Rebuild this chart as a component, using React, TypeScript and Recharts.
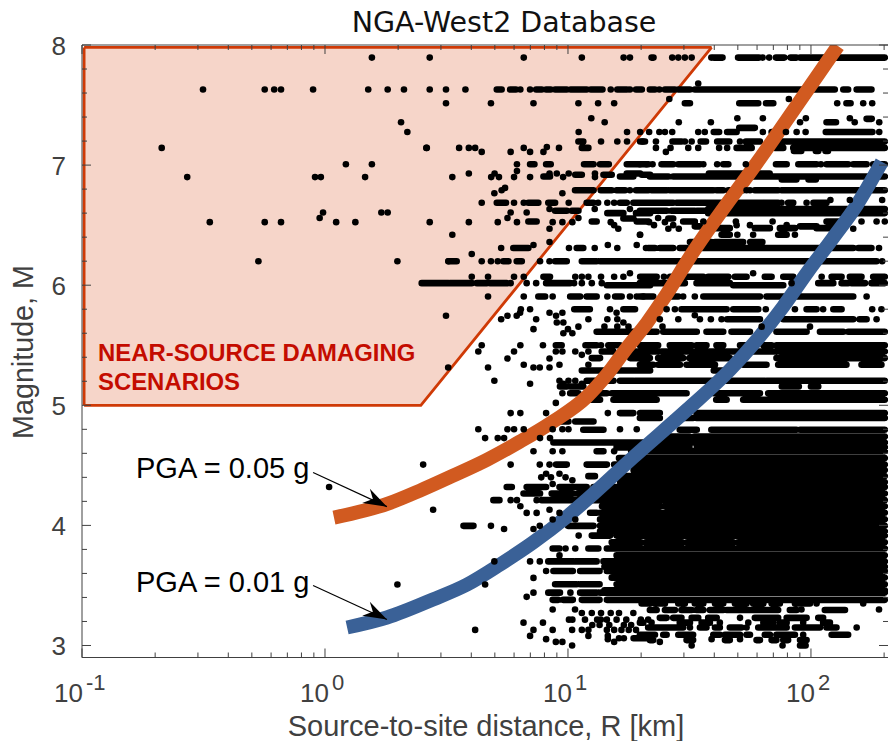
import { ComposedChart, Line, Area, Scatter, XAxis, YAxis, ReferenceLine } from 'recharts';

const xTicks = [0.1, 0.2, 0.3, 0.4, 0.5, 0.6, 0.7, 0.8, 0.9, 1, 2, 3, 4, 5, 6, 7, 8, 9, 10, 20, 30, 40, 50, 60, 70, 80, 90, 100, 200];
const xLabelExponents: Record<number, string> = { 0.1: '-1', 1: '0', 10: '1', 100: '2' };
const yTicks = [3, 3.2, 3.4, 3.6, 3.8, 4, 4.2, 4.4, 4.6, 4.8, 5, 5.2, 5.4, 5.6, 5.8, 6, 6.2, 6.4, 6.6, 6.8, 7, 7.2, 7.4, 7.6, 7.8, 8];

// curves: log10(R) and M
const pga05LogR = [0.037, 0.259, 0.391, 0.527, 0.667, 0.802, 0.938, 1.078, 1.16, 1.243, 1.325, 1.391, 1.502, 1.815, 2.111];
const pga05M = [4.065, 4.181, 4.29, 4.414, 4.547, 4.697, 4.864, 5.072, 5.255, 5.479, 5.687, 5.879, 6.236, 7.126, 7.992];
const pga01LogR = [0.091, 0.255, 0.444, 0.584, 0.72, 0.856, 0.996, 1.078, 1.267, 1.49, 1.667, 1.778, 1.885, 1.988, 2.091, 2.189, 2.292];
const pga01M = [3.15, 3.233, 3.383, 3.507, 3.674, 3.857, 4.073, 4.215, 4.564, 4.963, 5.296, 5.546, 5.82, 6.115, 6.394, 6.669, 7.027];

// near-source region outline
const regionR = [0.102, 2.48, 39];
const regionLow = [5, 5, 7.98];
const regionHigh = [7.98, 7.98, 7.98];

// records that overlap into solid runs: [M, [from, to, from, to, ...]] in log10(R)
const recordRuns: [number, number[]][] = [
  [7.895, [1.344, 1.352, 1.6, 1.636, 1.7, 1.786, 1.856, 1.89, 1.916, 1.94, 1.955, 2.304]],
  [7.63, [0.707, 0.727, 0.762, 0.786, 0.869, 0.892, 0.91, 0.929, 0.947, 0.995, 1.011, 1.077, 1.094, 1.142, 1.203, 1.242, 1.28, 1.304, 1.337, 1.358, 1.399, 1.44, 1.454, 1.502, 1.522, 2.098, 2.133, 2.153, 2.188, 2.249]],
  [7.515, [1.481, 1.502, 1.705, 1.783, 1.815, 1.845, 2.146, 2.163]],
  [7.385, [2.229, 2.25]],
  [7.357, [2.064, 2.103]],
  [7.31, [1.705, 1.769]],
  [7.276, [1.6, 1.622, 1.655, 1.694, 1.838, 1.865, 2.061, 2.253]],
  [7.196, [1.043, 1.063, 1.297, 1.317, 1.43, 1.467, 1.546, 1.568, 1.614, 1.664, 1.732, 1.79, 1.865, 2.304]],
  [7.143, [1.057, 1.084, 1.694, 1.756, 1.852, 1.886, 1.927, 2.304]],
  [7.118, [1.93, 1.96, 2.02, 2.03, 2.06, 2.07]],
  [7.007, [0.844, 0.862, 0.91, 0.929, 1.066, 1.105, 1.132, 1.168, 1.242, 1.331, 1.385, 1.433, 1.454, 1.543, 1.639, 1.66, 1.856, 1.9, 1.948, 2.023, 2.064, 2.153, 2.174, 2.229, 2.256, 2.304]],
  [6.93, [1.242, 1.297, 1.58, 1.83]],
  [6.92, [1.03, 1.057, 1.146, 1.18, 1.304, 1.338]],
  [6.905, [0.899, 0.926, 1.214, 1.269, 1.337, 1.413, 1.433, 2.304]],
  [6.88, [1.88, 1.94, 1.99, 2.02]],
  [6.79, [1.029, 1.105, 1.135, 1.18, 1.2, 1.235, 1.28, 1.331, 1.344, 1.406, 1.419, 1.598, 1.612, 1.639, 1.66, 1.721, 1.769, 1.865, 1.879, 2.304]],
  [6.686, [0.707, 0.745, 0.837, 0.878, 0.919, 0.947, 1.077, 1.105, 1.214, 1.242, 1.269, 1.338, 1.344, 1.433, 1.447, 1.804, 1.81, 1.865, 1.906, 1.927, 2.01, 2.064]],
  [6.635, [1.577, 2.304]],
  [6.62, [0.947, 0.995, 1.016, 1.043, 1.296, 1.406, 1.426, 1.522, 1.53, 1.57]],
  [6.6, [1.162, 1.228, 1.28, 1.338, 1.577, 2.304]],
  [6.53, [0.837, 0.871, 1.098, 1.118, 1.283, 1.331, 1.474, 1.522, 2.064, 2.119]],
  [6.555, [1.228, 1.269, 1.413, 1.433]],
  [6.49, [1.522, 1.543, 1.955, 2.023]],
  [6.475, [1.57, 1.666, 1.769, 1.831, 1.872, 1.934, 2.023, 2.119]],
  [6.42, [1.632, 1.666, 1.865, 1.9]],
  [6.36, [1.502, 1.59, 1.605, 1.721, 1.75, 1.8]],
  [6.31, [0.775, 0.837, 1.036, 1.063, 1.33, 1.358, 1.378, 1.433, 1.46, 1.488, 1.502, 2.174, 2.195, 2.249]],
  [6.2, [0.508, 0.542, 0.734, 0.755, 0.789, 0.81, 0.947, 0.995, 1.057, 1.118, 1.132, 2.27]],
  [6.07, [0.899, 0.926, 1.297, 1.365, 1.42, 1.447, 1.481, 1.557, 1.577, 1.66, 1.687, 1.735, 1.81, 1.838, 1.886, 1.927, 2.085, 2.126, 2.16, 2.208, 2.256, 2.304]],
  [6.017, [0.398, 0.508, 0.515, 0.604, 0.625, 0.666, 0.679, 0.748, 0.91, 1.009, 1.296, 1.481, 1.529, 1.666, 2.03, 2.092, 2.126, 2.153, 2.167, 2.222, 2.249, 2.304]],
  [6.0, [1.16, 1.338, 1.68, 1.886]],
  [5.906, [0.878, 0.906, 1.009, 1.05, 1.077, 1.118, 1.194, 1.221, 1.296, 1.351, 1.399, 1.454, 1.557, 1.79, 1.817, 2.174]],
  [5.8, [1.026, 1.09, 1.228, 1.276, 1.467, 1.653, 1.68, 1.783, 1.982, 2.023, 2.092, 2.126]],
  [5.717, [1.655, 1.79, 1.886, 1.913, 1.92, 2.174, 2.2, 2.229]],
  [5.612, [1.118, 1.338, 1.3, 1.365, 1.392, 1.53, 1.57, 1.639, 1.673, 1.749, 1.858, 1.982, 2.037, 2.133, 2.153, 2.304]],
  [5.5, [0.95, 0.974, 1.072, 1.118, 1.166, 1.214, 1.296, 1.371, 1.419, 1.509, 1.529, 1.57, 1.611, 1.639, 1.708, 1.762, 1.804, 1.838, 1.858, 2.304]],
  [5.448, [1.139, 1.187, 1.256, 1.371, 1.385, 1.708, 1.735, 1.858, 1.872, 2.304]],
  [5.393, [1.098, 1.132, 1.256, 1.337, 1.371, 1.474, 1.5, 1.666, 1.858, 2.304]],
  [5.337, [1.296, 1.351, 1.371, 1.461, 1.488, 1.605, 1.721, 1.817, 1.865, 2.146, 2.208, 2.29]],
  [5.29, [1.057, 1.338, 1.6, 1.68]],
  [5.204, [1.077, 1.125, 1.157, 1.187, 1.214, 1.269, 1.276, 1.338, 1.296, 1.81, 1.817, 2.304]],
  [5.157, [0.967, 0.995, 1.009, 1.063, 1.88, 1.95, 2.0, 2.03]],
  [5.1, [1.009, 1.043, 1.098, 1.16, 1.18, 1.338, 1.296, 1.488, 1.6, 1.653, 1.653, 1.79, 1.824, 2.304]],
  [5.046, [1.084, 1.132, 1.187, 1.297, 1.317, 1.338, 1.296, 1.365, 1.61, 1.653, 1.721, 2.304]],
  [4.935, [1.214, 1.269, 1.297, 1.378, 1.529, 2.304]],
  [4.894, [1.296, 1.378, 1.433, 1.515, 1.529, 2.304]],
  [4.865, [0.961, 1.002, 1.03, 1.105]],
  [4.796, [1.063, 1.146, 1.46, 1.53, 1.59, 1.94, 1.955, 2.304]],
  [4.74, [1.35, 1.5, 1.52, 2.304]],
  [4.69, [0.94, 2.304]],
  [4.65, [1.2, 1.5, 1.53, 2.304]],
  [4.617, [1.118, 1.146, 1.26, 2.304]],
  [4.56, [1.21, 2.304]],
  [4.506, [0.951, 0.995, 1.077, 1.16, 1.19, 2.304]],
  [4.46, [1.27, 2.304]],
  [4.41, [1.084, 1.111, 1.194, 1.43, 1.45, 1.56, 1.575, 1.72, 1.735, 2.304]],
  [4.36, [1.215, 2.304]],
  [4.32, [0.748, 0.769, 0.83, 0.91, 0.965, 1.077, 1.105, 2.304]],
  [4.265, [0.817, 0.885, 0.933, 1.02, 1.04, 2.304]],
  [4.21, [0.693, 0.718, 0.892, 2.304]],
  [4.16, [1.14, 1.38, 1.4, 1.6, 1.615, 2.304]],
  [4.105, [1.091, 1.118, 1.132, 2.304]],
  [4.05, [1.132, 2.304]],
  [3.996, [0.57, 0.611, 1.0, 1.105, 1.132, 2.304]],
  [3.95, [1.132, 2.304]],
  [3.915, [1.098, 1.173, 1.2, 2.304]],
  [3.86, [1.18, 1.3, 1.32, 1.47, 1.49, 1.68, 1.7, 2.304]],
  [3.807, [0.937, 0.965, 1.084, 1.125, 1.16, 2.304]],
  [3.75, [1.2, 2.304]],
  [3.7, [0.919, 1.022, 1.03, 1.118, 1.146, 2.304]],
  [3.655, [1.15, 2.304]],
  [3.62, [0.94, 1.02, 1.05, 1.13, 1.16, 2.304]],
  [3.565, [1.18, 2.304]],
  [3.51, [0.947, 1.036, 1.05, 1.13, 1.2, 2.304]],
  [3.46, [1.15, 2.304]],
  [3.44, [0.919, 0.967, 1.05, 1.118, 1.132, 2.304]],
  [3.38, [0.937, 0.96, 0.98, 1.02, 1.057, 1.13, 1.16, 2.304]],
  [3.35, [1.303, 1.337, 1.358, 1.399, 1.454, 1.481, 1.522, 1.557, 1.605, 1.639, 1.687, 1.735, 1.762, 1.804, 1.838, 1.872, 1.934, 1.996]],
  [3.295, [1.337, 1.365, 1.399, 1.44, 1.467, 1.509, 1.529, 1.557, 1.584, 1.639, 1.653, 1.68, 1.687, 1.865, 1.913, 1.941, 2.057, 2.14]],
  [3.23, [1.378, 1.406, 1.433, 1.467, 1.509, 1.536, 1.577, 1.612, 1.769, 1.865, 1.9, 1.982, 2.03, 2.05]],
  [3.19, [1.296, 1.31, 1.46, 1.502, 1.55, 1.584, 1.804, 1.845, 1.872, 1.9, 2.05, 2.078]],
  [3.15, [1.33, 1.474, 1.543, 1.57, 1.605, 1.625, 1.666, 1.714, 1.783, 1.9, 1.934, 2.037, 2.064, 2.105]],
  [3.09, [1.296, 1.358, 1.392, 1.406, 1.454, 1.515, 1.598, 1.625, 1.646, 1.708, 1.735, 1.749, 1.81, 1.831, 1.858, 1.934, 2.085, 2.153]],
  [3.06, [1.27, 1.32]],
  [3.045, [1.337, 1.351, 1.488, 1.515, 1.646, 1.666, 1.776, 1.79, 1.838, 1.858, 1.886, 1.906, 1.955, 1.982]],
  [3.0, [1.955, 1.978]],
];

// single records: [M, [log10(R), ...]]
const singleRecords: [number, number[]][] = [
  [7.895, [0.193, 0.431, 0.818, 1.057, 1.229, 1.255, 1.429, 1.454, 1.481, 1.509, 1.59, 1.801, 1.828]],
  [7.68, [1.536]],
  [7.63, [-0.502, -0.248, -0.209, -0.181, -0.049, 0.178, 0.258, 0.325, 0.431, 0.498, 0.578, 0.804, 0.844, 1.176, 1.255, 1.376]],
  [7.55, [1.417, 1.909]],
  [7.515, [0.498, 0.683, 0.858, 1.043, 1.124, 1.19, 2.108, 2.215, 2.252]],
  [7.39, [1.096, 1.697, 1.802, 1.979, 2.16]],
  [7.357, [0.313, 1.151, 1.456, 1.588, 1.955, 2.18, 2.281]],
  [7.276, [0.339, 1.044, 1.243, 1.297, 1.334, 1.376, 1.399, 1.429, 1.536, 1.563, 1.802, 1.897, 1.941, 1.978, 2.281]],
  [7.196, [1.136, 1.203, 1.243, 1.307, 1.362, 1.481, 1.509, 1.708]],
  [7.143, [-0.672, 0.417, 0.419, 0.552, 0.592, 0.618, 0.818, 0.963, 1.362, 1.422, 1.495, 1.536, 1.622, 1.655]],
  [7.11, [0.645, 0.764, 0.844, 0.899, 1.403]],
  [7.15, [0.913]],
  [7.007, [0.086, 0.193, 0.79, 1.296, 1.323, 1.348, 1.557, 1.614, 1.732, 2.041]],
  [6.95, [0.79]],
  [6.93, [0.592, 0.698, 0.924, 0.954, 1.003, 1.111]],
  [6.9, [-0.567, -0.041, -0.017, 0.165, 0.524, 0.684, 0.716, 0.778, 0.844, 0.98, 1.111]],
  [6.81, [0.741]],
  [6.79, [0.727, 1.255, 1.735, 1.749]],
  [6.766, [0.697, 0.977]],
  [6.686, [0.645, 0.778, 0.818, 1.003, 1.124, 1.162, 1.19, 1.879, 1.982]],
  [6.71, [2.08, 2.16, 2.293]],
  [6.635, [0.924, 1.11, 1.255]],
  [6.605, [-0.008, 0.232, 0.258, 0.764, 0.83]],
  [6.56, [-0.022, 0.751, 1.043, 1.371]],
  [6.525, [-0.474, -0.248, -0.181, 0.046, 0.125, 0.431, 0.592, 0.711, 0.79, 0.937, 0.977, 1.018, 1.176, 1.334, 1.399]],
  [6.53, [1.557, 1.691, 1.842, 2.208, 2.27, 2.304]],
  [6.5, [1.19, 1.354, 1.433, 1.694, 1.749, 1.9]],
  [6.47, [0.924, 1.207, 1.413, 1.456, 2.174]],
  [6.42, [0.524, 1.296, 1.297, 1.697, 1.762, 1.934]],
  [6.36, [0.924]],
  [6.335, [0.858, 1.164, 1.283]],
  [6.31, [0.725, 1.004, 1.11, 1.203, 1.321, 2.28]],
  [6.26, [0.604]],
  [6.2, [-0.274, 0.298, 0.508, 0.645, 0.683, 0.711, 0.885, 0.924, 2.293]],
  [6.1, [1.255, 1.762]],
  [6.07, [0.604, 0.671, 0.778, 0.818, 1.03, 1.057, 1.084, 1.136, 1.19, 1.228, 1.395, 2.044]],
  [6.017, [0.764, 0.83, 0.869, 1.025, 1.057, 1.098, 1.139, 1.92]],
  [5.906, [0.671, 0.818, 0.937, 1.162, 1.255, 1.283, 1.31, 1.474, 1.522, 2.229]],
  [5.8, [0.806, 0.844, 1.173, 1.406, 1.44, 1.814, 1.934, 2.05, 2.252, 2.29]],
  [5.77, [0.803, 0.924, 0.977, 1.2]],
  [5.745, [0.498, 0.751, 0.789, 0.951]],
  [5.717, [0.725, 0.869, 1.084, 1.162, 1.203, 1.378, 1.454, 1.543, 1.588, 1.632, 2.27]],
  [5.75, [1.522]],
  [5.69, [0.954, 0.981, 1.228]],
  [5.655, [1.043, 1.15, 1.203, 1.249, 1.389, 1.797, 1.996]],
  [5.634, [0.858, 1.0]],
  [5.6, [0.981, 1.018]],
  [5.5, [0.645, 0.804, 0.897, 1.136]],
  [5.448, [0.631, 0.778, 0.95, 0.977, 1.03, 1.084]],
  [5.42, [1.057]],
  [5.39, [0.751, 0.924]],
  [5.337, [0.818, 0.965, 1.084]],
  [5.315, [0.507, 0.671, 0.858, 0.884, 0.924]],
  [5.204, [0.697, 0.965, 1.002, 1.03]],
  [5.18, [0.844, 0.981, 1.057]],
  [5.1, [0.977]],
  [5.02, [0.95]],
  [4.935, [0.764, 0.804, 0.91, 1.164]],
  [4.8, [0.631, 0.751, 0.778, 0.818, 0.937, 0.977, 1.002, 1.214, 1.283]],
  [4.727, [0.659, 0.711, 0.737, 0.885, 0.926]],
  [4.617, [0.858, 0.937, 0.977, 1.19]],
  [4.506, [0.404, 0.764, 0.884, 0.924]],
  [4.43, [0.91, 0.965]],
  [4.4, [0.99, 0.89, 0.93]],
  [4.376, [1.018]],
  [4.345, [0.937]],
  [4.32, [0.017]],
  [4.21, [0.764, 0.79, 0.871]],
  [4.16, [0.804]],
  [4.13, [0.445, 0.924]],
  [4.104, [0.83, 0.871, 0.965]],
  [4.049, [0.937, 1.03]],
  [3.996, [0.683, 0.884]],
  [3.97, [0.737, 0.858]],
  [3.915, [1.044]],
  [3.807, [0.99, 1.03]],
  [3.75, [0.965]],
  [3.7, [0.697, 0.844, 0.884]],
  [3.62, [0.91]],
  [3.563, [0.858]],
  [3.508, [0.298, 0.659]],
  [3.44, [0.858, 1.01]],
  [3.405, [0.83]],
  [3.35, [2.023, 2.215]],
  [3.3, [0.937, 1.029, 1.961, 2.28]],
  [3.27, [1.057, 1.098, 1.136, 1.176, 1.21, 1.269]],
  [3.23, [1.708]],
  [3.215, [1.004, 1.018, 1.07, 1.12, 1.135, 1.16, 1.2, 1.24, 1.3, 1.33]],
  [3.19, [0.817, 0.897, 1.344, 1.625, 1.742, 1.968]],
  [3.17, [1.1, 1.13, 1.17, 1.23, 1.26]],
  [3.15, [1.502, 1.735, 2.188]],
  [3.13, [0.618, 0.858, 0.937, 1.017, 1.057, 1.084, 1.16, 1.19, 1.22, 1.25, 1.28]],
  [3.09, [1.968]],
  [3.08, [0.844, 1.084, 1.164]],
  [3.06, [1.21, 1.23]],
  [3.053, [0.91, 1.164, 1.591, 1.708]],
  [3.03, [0.95, 0.977, 1.19, 1.378]],
  [3.0, [1.017, 1.509, 1.883]],
];

const fromLog = (logR: number) => 10 ** logR;

const runTable = recordRuns.flatMap(([m, spans]) => {
  const pts: { r: number; m: number | null }[] = [];
  for (let i = 0; i + 1 < spans.length; i += 2) {
    pts.push({ r: fromLog(spans[i]), m }, { r: fromLog(spans[i + 1]), m }, { r: fromLog(spans[i + 1]), m: null });
  }
  return pts;
});
const singleTable = singleRecords.flatMap(([m, list]) => list.map((v) => ({ r: fromLog(v), m })));
const pga05Table = pga05LogR.map((v, i) => ({ r: fromLog(v), m: pga05M[i] }));
const pga01Table = pga01LogR.map((v, i) => ({ r: fromLog(v), m: pga01M[i] }));
const regionTable = regionR.map((r, i) => ({ r, band: [regionLow[i], regionHigh[i]] }));
const regionEdge = [{ r: regionR[0], m: regionLow[0] }, { r: regionR[0], m: regionHigh[0] }];

const AXIS = '#404040';
const SANS = '"Liberation Sans", Arial, sans-serif';
const X_MAX = 207.5;

function BottomTick({ x, y, payload }: any) {
  const exp = xLabelExponents[payload.value];
  const major = exp !== undefined;
  return (
    <g>
      <line x1={x} x2={x} y1={y} y2={y - (major ? 9 : 5)} stroke={AXIS} />
      {major && (
        <text x={x - (exp === '-1' ? 28 : 25)} y={702} fontFamily={SANS} fontSize={26} fill={AXIS}>
          10
          <tspan dy={-12} dx={3} fontSize={22}>{exp}</tspan>
        </text>
      )}
    </g>
  );
}

function TopTick({ x, y, payload }: any) {
  const major = xLabelExponents[payload.value] !== undefined;
  return <line x1={x} x2={x} y1={y} y2={y + (major ? 9 : 5)} stroke={AXIS} />;
}

function LeftTick({ x, y, payload }: any) {
  const major = Number.isInteger(payload.value);
  return (
    <g>
      <line x1={x} x2={x + (major ? 9 : 5)} y1={y} y2={y} stroke={AXIS} />
      {major && (
        <text x={66} y={y + 10} textAnchor="end" fontFamily={SANS} fontSize={26} fill={AXIS}>
          {payload.value}
        </text>
      )}
    </g>
  );
}

function RightTick({ x, y, payload }: any) {
  const major = Number.isInteger(payload.value);
  return <line x1={x} x2={x - (major ? 9 : 5)} y1={y} y2={y} stroke={AXIS} />;
}

const Dot = (p: any) => <circle cx={p.cx} cy={p.cy} r={3.3} fill="#000" />;

export default function App() {
  return (
    <div style={{ position: 'absolute', left: 0, top: 0, width: 889, height: 741, background: '#fff' }}>
      <ComposedChart width={889} height={741} margin={{ top: 44, right: 0, bottom: 82.5, left: 81 }}>
        <defs>
          <marker id="stealth" markerUnits="userSpaceOnUse" viewBox="0 -10 27 20" markerWidth={27} markerHeight={20} refX={26} refY={0} orient="auto">
            <path d="M26,0 L2,7 L10,-1 L3,-9 Z" fill="#000" />
          </marker>
        </defs>
        <XAxis xAxisId="b" dataKey="r" type="number" scale="log" domain={[0.1, X_MAX]} allowDataOverflow ticks={xTicks} interval={0} height={1} tickSize={0} tickMargin={0} tickLine={false} stroke={AXIS} tick={<BottomTick />} />
        <XAxis xAxisId="t" orientation="top" dataKey="r" type="number" scale="log" domain={[0.1, X_MAX]} allowDataOverflow ticks={xTicks} interval={0} height={1} tickSize={0} tickMargin={0} tickLine={false} stroke={AXIS} tick={<TopTick />} />
        <YAxis yAxisId="l" dataKey="m" type="number" domain={[2.9, 8]} allowDataOverflow ticks={yTicks} interval={0} width={1} tickSize={0} tickMargin={0} tickLine={false} stroke={AXIS} tick={<LeftTick />} />
        <YAxis yAxisId="r" orientation="right" dataKey="m" type="number" domain={[2.9, 8]} allowDataOverflow ticks={yTicks} interval={0} width={1} tickSize={0} tickMargin={0} tickLine={false} axisLine={false} tick={<RightTick />} />

        <Line xAxisId="b" yAxisId="l" data={runTable} dataKey="m" type="linear" stroke="#000" strokeWidth={6.6} strokeLinecap="round" dot={false} activeDot={false} isAnimationActive={false} connectNulls={false} />
        <Scatter xAxisId="b" yAxisId="l" data={singleTable} dataKey="m" shape={Dot} isAnimationActive={false} />

        <Area xAxisId="b" yAxisId="l" data={regionTable} dataKey="band" type="linear" fill="#d63900" fillOpacity={0.21} stroke="#cf3a06" strokeWidth={2.8} dot={false} activeDot={false} isAnimationActive={false} />
        <Line xAxisId="b" yAxisId="l" data={regionEdge} dataKey="m" type="linear" stroke="#cf3a06" strokeWidth={2.8} dot={false} activeDot={false} isAnimationActive={false} />

        <Line xAxisId="b" yAxisId="l" data={pga05Table} dataKey="m" type="monotone" stroke="#d15a20" strokeWidth={14} dot={false} activeDot={false} isAnimationActive={false} />
        <Line xAxisId="b" yAxisId="l" data={pga01Table} dataKey="m" type="monotone" stroke="#3a6197" strokeWidth={14} dot={false} activeDot={false} isAnimationActive={false} />

        <ReferenceLine xAxisId="b" yAxisId="l" segment={[{ x: fromLog(-0.049), y: 4.44 }, { x: fromLog(0.255), y: 4.156 }]} stroke="#000" strokeWidth={1.2} markerEnd="url(#stealth)" />
        <ReferenceLine xAxisId="b" yAxisId="l" segment={[{ x: fromLog(-0.049), y: 3.5 }, { x: fromLog(0.255), y: 3.217 }]} stroke="#000" strokeWidth={1.2} markerEnd="url(#stealth)" />

        <text x={504} y={32} textAnchor="middle" fontFamily='"DejaVu Sans", sans-serif' fontSize={28.5} fill="#111">NGA-West2 Database</text>
        <text x={486} y={736} textAnchor="middle" fontFamily={SANS} fontSize={29} fill={AXIS}>Source-to-site distance, R [km]</text>
        <text x={33} y={352} textAnchor="middle" transform="rotate(-90 33 352)" fontFamily={SANS} fontSize={28.7} fill={AXIS}>Magnitude, M</text>
        <text x={98} y={361} fontFamily={SANS} fontWeight="bold" fontSize={23.9} fill="#c00000">NEAR-SOURCE DAMAGING</text>
        <text x={98} y={390} fontFamily={SANS} fontWeight="bold" fontSize={23.9} fill="#c00000">SCENARIOS</text>
        <text x={136} y={478} fontFamily={SANS} fontSize={29} fill="#000">PGA = 0.05 g</text>
        <text x={136} y={592} fontFamily={SANS} fontSize={29} fill="#000">PGA = 0.01 g</text>
      </ComposedChart>
    </div>
  );
}
